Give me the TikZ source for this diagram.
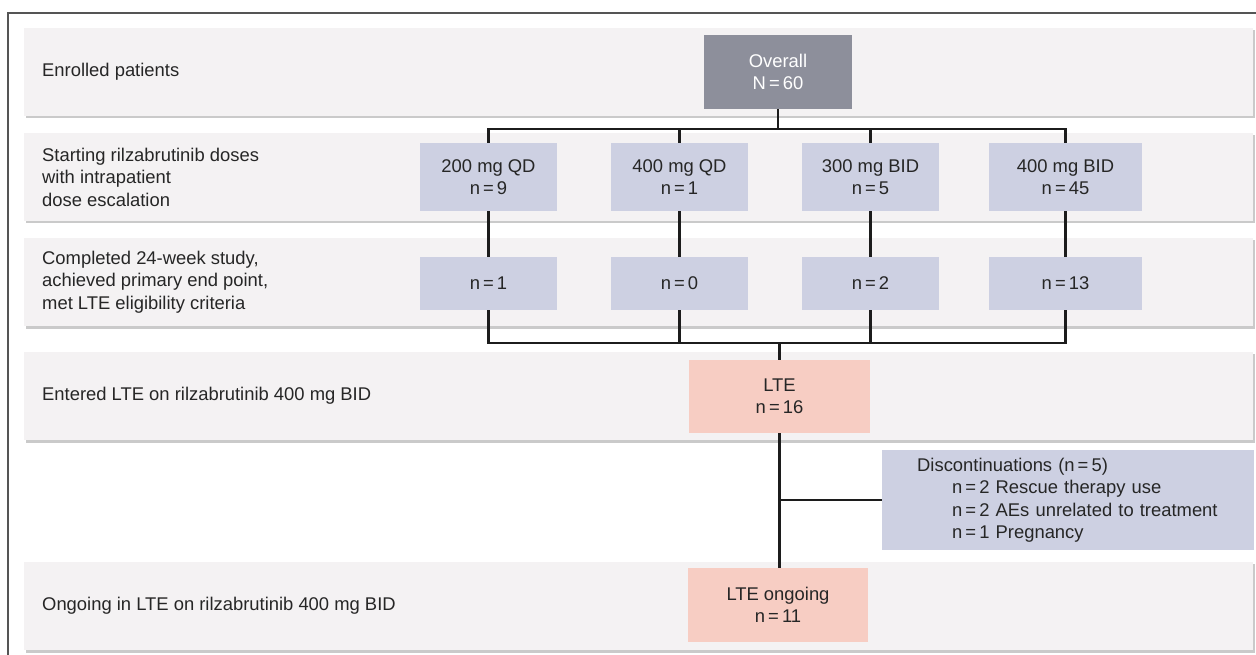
\documentclass[tikz,border=0pt]{standalone}
\usepackage{fontspec}
\setmainfont{Liberation Sans}
\definecolor{ink}{HTML}{262626}
\definecolor{bandfill}{HTML}{F4F2F3}
\definecolor{bandshade}{HTML}{CACACA}
\definecolor{dosefill}{HTML}{CDD0E2}
\definecolor{allfill}{HTML}{8D8F9B}
\definecolor{ltefill}{HTML}{F7CDC3}
\definecolor{framec}{HTML}{555555}
\definecolor{linec}{HTML}{1C1C1C}
\begin{document}
\begin{tikzpicture}[x=1pt,y=-1pt,
  txt/.style={text=ink,font=\fontsize{18.4}{22.5}\selectfont},
  lbl/.style={txt,anchor=west,align=left,inner sep=0pt},
  box/.style={txt,align=center,inner sep=0pt,minimum height=#1},
  dose/.style={box=68,fill=dosefill,minimum width=137},
  done/.style={box=53,fill=dosefill,minimum width=137},
  lte/.style={box=73,fill=ltefill,minimum width=181},
  conn/.style={draw=linec,line width=2.4pt}]
\useasboundingbox (0,0) rectangle (1256,655);

% outer frame (open towards the right and bottom)
\draw[framec,line width=1.4pt] (1256,13) -- (8,13) -- (8,655);

% row bands with a soft drop shadow
\foreach \t/\b in {28/116,133/221,238/326,352/440,562/650}{
  \fill[bandshade] (26,\t+2) rectangle (1255,\b+2.5);
  \fill[bandfill] (24,\t) rectangle (1253,\b);
}

% row labels
\node[lbl] (l1) at (42,72) {Enrolled patients};
\node[lbl] (l2) at (42,177) {Starting rilzabrutinib doses\\with intrapatient\\dose escalation};
\node[lbl] (l3) at (42,282) {Completed 24-week study,\\achieved primary end point,\\met LTE eligibility criteria};
\node[lbl] (l4) at (42,396) {Entered LTE on rilzabrutinib 400 mg BID};
\node[lbl] (l5) at (42,606) {Ongoing in LTE on rilzabrutinib 400 mg BID};

% flow boxes
\node[box=74,fill=allfill,minimum width=148,text=white] (ov) at (778,72) {Overall\\N\,=\,60};

\node[dose] (d1) at (488.5,177) {200 mg QD\\n\,=\,9};
\node[dose] (d2) at (679.5,177) {400 mg QD\\n\,=\,1};
\node[dose] (d3) at (870.5,177) {300 mg BID\\n\,=\,5};
\node[dose,minimum width=153] (d4) at (1065.5,177) {400 mg BID\\n\,=\,45};

\node[done] (r1) at (488.5,283.5) {n\,=\,1};
\node[done] (r2) at (679.5,283.5) {n\,=\,0};
\node[done] (r3) at (870.5,283.5) {n\,=\,2};
\node[done,minimum width=153] (r4) at (1065.5,283.5) {n\,=\,13};

\node[lte] (lte) at (779.5,396.5) {LTE\\n\,=\,16};
\node[lte,minimum height=74,minimum width=180] (lteon) at (778,605) {LTE ongoing\\n\,=\,11};

\node[txt,fill=dosefill,anchor=north west,inner sep=0pt,minimum width=372,minimum height=100,
      text width=372,align=left] (disc) at (882,450)
  {\hspace*{35pt}Discontinuations (n\,=\,5)\\
   \hspace*{70pt}n\,=\,2 Rescue therapy use\\
   \hspace*{70pt}n\,=\,2 AEs unrelated to treatment\\
   \hspace*{70pt}n\,=\,1 Pregnancy};

% split from the overall cohort to the starting doses
\coordinate (hub1) at (ov.south |- 0,129);
\draw[conn] (ov.south) -- (hub1);
\draw[conn] (d1.north) |- (hub1) -| (d4.north);
\draw[conn] (d2.north) -- (d2.north |- hub1);
\draw[conn] (d3.north) -- (d3.north |- hub1);

% each dose arm to its completers
\draw[conn] (d1.south) -- (r1.north);
\draw[conn] (d2.south) -- (r2.north);
\draw[conn] (d3.south) -- (r3.north);
\draw[conn] (d4.south) -- (r4.north);

% completers merge into the extension
\coordinate (hub2) at (lte.north |- 0,343);
\draw[conn] (r1.south) |- (hub2) -| (r4.south);
\draw[conn] (r2.south) -- (r2.south |- hub2);
\draw[conn] (r3.south) -- (r3.south |- hub2);
\draw[conn] (hub2) -- (lte.north);

% extension to ongoing, with the discontinuation branch
\draw[conn] (lte.south) -- (lte.south |- lteon.north);
\coordinate (split) at (lte.south |- disc.west);
\draw[conn] (split) -- (disc.west);
\end{tikzpicture}
\end{document}
